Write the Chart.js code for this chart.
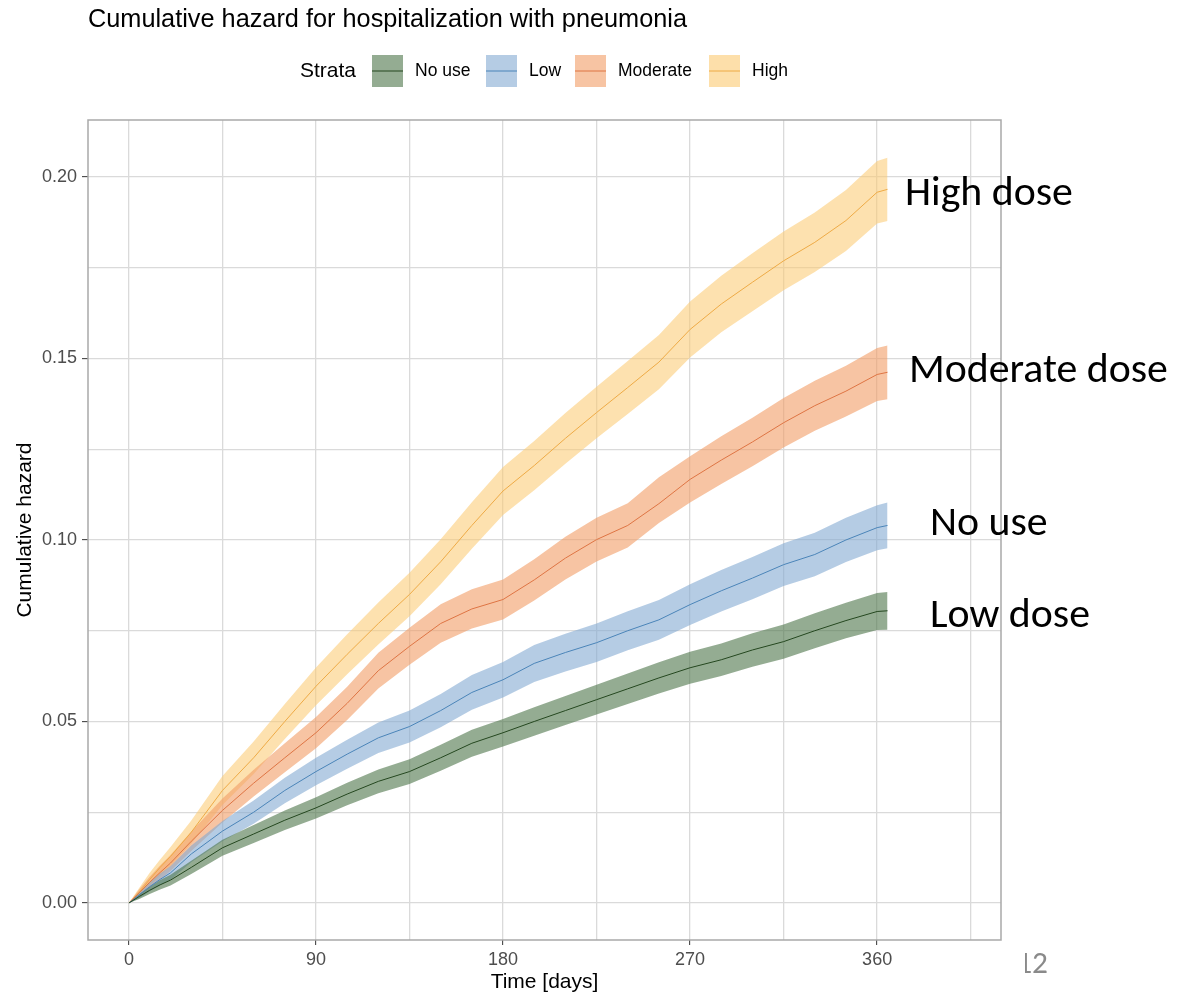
<!DOCTYPE html>
<html><head><meta charset="utf-8">
<script src="https://cdn.jsdelivr.net/npm/chart.js@4/dist/chart.umd.min.js"></script>
<style>html,body{margin:0;padding:0;background:#fff;}#wrap{position:relative;width:1183px;height:995px;}</style>
</head><body><div id="wrap"><canvas id="c" width="1183" height="995" style="width:1183px;height:995px"></canvas></div>
<script>
// ---- data ----
const days = [0,5,10,15,20,30,45,60,75,90,105,120,135,150,165,180,195,210,225,240,255,270,285,300,315,330,345,360,365];

const noUse   = [0,.0018,.0035,.005,.0063,.0098,.0152,.019,.0228,.0262,.030,.0335,.0362,.040,.044,.0469,.050,.053,.056,.059,.062,.0648,.067,.0697,.072,.075,.0778,.0803,.0805];
const noUseLo = [0,.0011,.0025,.0037,.0048,.008,.013,.0165,.0201,.0233,.0269,.0302,.0328,.0364,.0403,.0431,.0461,.049,.0519,.0548,.0577,.0604,.0625,.0651,.0673,.0702,.0729,.0752,.0753];
const noUseHi = [0,.0025,.0045,.0063,.0078,.0116,.0174,.0215,.0255,.0291,.0331,.0368,.0396,.0436,.0477,.0507,.0539,.057,.0601,.0632,.0663,.0692,.0715,.0743,.0767,.0798,.0827,.0854,.0857];

const low   = [0,.0022,.0045,.0065,.0083,.0135,.0198,.025,.031,.0362,.041,.0455,.0486,.053,.058,.0615,.066,.069,.0717,.075,.078,.0822,.086,.0895,.0932,.096,.100,.1034,.104];
const lowLo = [0,.0013,.0032,.0049,.0064,.0112,.017,.0218,.0275,.0324,.037,.0413,.0442,.0484,.0532,.0566,.0609,.0638,.0664,.0696,.0725,.0766,.0803,.0837,.0873,.09,.0939,.0972,.0977];
const lowHi = [0,.0031,.0058,.0081,.0102,.0158,.0226,.0282,.0345,.04,.045,.0497,.053,.0576,.0628,.0664,.0711,.0742,.077,.0804,.0835,.0878,.0917,.0953,.0991,.102,.1061,.1096,.1103];

const moderate   = [0,.0028,.0057,.0084,.011,.017,.0255,.033,.040,.0469,.055,.064,.0707,.077,.081,.0836,.089,.095,.1001,.104,.110,.1167,.122,.127,.1323,.137,.141,.1456,.1462];
const moderateLo = [0,.0018,.0042,.0065,.0088,.0143,.0222,.0293,.036,.0426,.0504,.0591,.0656,.0717,.0756,.0781,.0833,.0891,.0941,.0979,.1047,.1103,.1154,.1203,.1255,.1301,.134,.1383,.1388];
const moderateHi = [0,.0038,.0072,.0103,.0132,.0197,.0288,.0367,.044,.0512,.0596,.0689,.0758,.0823,.0864,.0891,.0947,.1009,.1061,.1101,.1173,.1231,.1286,.1337,.1391,.1439,.148,.1529,.1536];

const high   = [0,.003,.0065,.0098,.0128,.0195,.031,.040,.050,.0597,.0685,.077,.085,.094,.104,.1135,.1205,.128,.1351,.142,.149,.158,.165,.171,.1769,.182,.188,.1958,.1966];
const highLo = [0,.0018,.0047,.0076,.0102,.0163,.027,.0355,.0452,.0545,.063,.0712,.079,.0878,.0976,.1069,.1137,.121,.128,.1347,.1415,.1503,.1572,.163,.1688,.1738,.1796,.1872,.1879];
const highHi = [0,.0042,.0083,.012,.0154,.0227,.035,.0445,.0548,.0649,.074,.0828,.091,.1002,.1104,.1201,.1273,.135,.1422,.1493,.1565,.1657,.1728,.179,.185,.1902,.1964,.2044,.2053];

const strataNames = ["No use","Low","Moderate","High"];
const xTicks = [0,45,90,135,180,225,270,315,360,405];
const yTicks = [0,0.025,0.05,0.075,0.10,0.125,0.15,0.175,0.20];
const annotations = ["High dose","Moderate dose","No use","Low dose"];

// ---- styles ----
const fills = ['rgba(77,117,73,0.6)','rgba(132,170,210,0.6)','rgba(242,157,102,0.6)','rgba(252,204,118,0.58)'];
const swatch = ['rgb(148,172,146)','rgb(181,204,228)','rgb(247,196,163)','rgb(253,223,170)'];
const lineCol = ['#24461f','#4a84b8','#de7443','#eeaa45'];

const series = [[noUse,noUseLo,noUseHi],[low,lowLo,lowHi],[moderate,moderateLo,moderateHi],[high,highLo,highHi]];
const pts = arr => days.map((d,i)=>({x:d,y:arr[i]}));
const datasets = [];
series.forEach((s,k)=>{
  datasets.push({data:pts(s[1]),borderWidth:0,pointRadius:0,fill:false,order:2,backgroundColor:'transparent'});
  datasets.push({data:pts(s[2]),borderWidth:0,pointRadius:0,fill:'-1',order:2,backgroundColor:fills[k]});
});
series.forEach((s,k)=>{
  datasets.push({data:pts(s[0]),borderWidth:1,borderColor:lineCol[k],pointRadius:0,fill:false,order:1,tension:0});
});

const SANS = '"Liberation Sans", Arial, sans-serif';
const ANN = 'Carlito, Calibri, Lato, sans-serif';

const decor = {
  id:'decor',
  afterDraw(chart){
    const ctx = chart.ctx, a = chart.chartArea;
    ctx.save();
    // panel border
    ctx.strokeStyle = '#a9a9a9'; ctx.lineWidth = 1.5;
    ctx.strokeRect(a.left, a.top, a.right-a.left, a.bottom-a.top);
    // title
    ctx.fillStyle = '#000'; ctx.textBaseline = 'alphabetic'; ctx.textAlign = 'left';
    ctx.font = `25.3px ${SANS}`;
    ctx.fillText('Cumulative hazard for hospitalization with pneumonia', 88, 27);
    // legend
    ctx.font = `21px ${SANS}`; ctx.textBaseline = 'middle';
    ctx.fillText('Strata', 300, 71);
    const sx = [372,486,575,709], lx = [415,529,618,752];
    ctx.font = `17.5px ${SANS}`;
    strataNames.forEach((n,k)=>{
      ctx.fillStyle = swatch[k]; ctx.fillRect(sx[k],55,31,32);
      ctx.strokeStyle = lineCol[k]; ctx.lineWidth = 1;
      ctx.beginPath(); ctx.moveTo(sx[k],71); ctx.lineTo(sx[k]+31,71); ctx.stroke();
      ctx.fillStyle = '#000'; ctx.fillText(n, lx[k], 71);
    });
    // axis titles
    ctx.font = `21px ${SANS}`; ctx.textAlign = 'center';
    ctx.fillText('Time [days]', (a.left+a.right)/2, 982);
    ctx.save(); ctx.translate(25,(a.top+a.bottom)/2); ctx.rotate(-Math.PI/2);
    ctx.fillText('Cumulative hazard', 0, 0); ctx.restore();
    // annotations
    ctx.font = `100px ${ANN}`;
    const size = 100*259/ctx.measureText('Moderate dose').width;
    ctx.font = `${size}px ${ANN}`; ctx.textAlign = 'left'; ctx.textBaseline = 'alphabetic';
    ctx.fillStyle = '#000';
    const ax = [905,909,930,930], ay = [205,382,535,627];
    annotations.forEach((t,k)=>ctx.fillText(t, ax[k], ay[k]));
    // slide number (partly cut in reference)
    ctx.save(); ctx.beginPath(); ctx.rect(1025,940,100,55); ctx.clip();
    ctx.fillStyle = '#8a8a8a'; ctx.font = `${size*0.75}px ${ANN}`; ctx.textAlign = 'right';
    ctx.fillText('12', 1048, 973); ctx.restore();
    ctx.restore();
  }
};

const isMajorX = v => Math.abs(v % 90) < 1e-9;
const isMajorY = v => Math.abs(v/0.05 - Math.round(v/0.05)) < 1e-6;

new Chart(document.getElementById('c'), {
  type:'line',
  data:{datasets},
  options:{
    responsive:false, animation:false, devicePixelRatio:1,
    layout:{padding:{left:0,top:120,right:182,bottom:0}},
    plugins:{legend:{display:false},tooltip:{enabled:false},title:{display:false}},
    scales:{
      x:{type:'linear',min:-19.7,max:419.6,
        afterBuildTicks:s=>{s.ticks = xTicks.map(v=>({value:v}));},
        afterFit:s=>{s.height = 55;},
        border:{display:false},
        grid:{color:'#dadada',lineWidth:1.3,tickLength:5,tickWidth:1,
          tickColor:c=>isMajorX(c.tick.value)?'#333':'rgba(0,0,0,0)'},
        ticks:{autoSkip:false,maxRotation:0,padding:4,color:'#4d4d4d',font:{family:SANS,size:18},
          callback:v=>isMajorX(v)?String(v):''}
      },
      y:{type:'linear',min:-0.0102,max:0.2157,
        afterBuildTicks:s=>{s.ticks = yTicks.map(v=>({value:v}));},
        afterFit:s=>{s.width = 88;},
        border:{display:false},
        grid:{color:'#dadada',lineWidth:1.3,tickLength:6,tickWidth:1,
          tickColor:c=>isMajorY(c.tick.value)?'#333':'rgba(0,0,0,0)'},
        ticks:{autoSkip:false,padding:5,color:'#4d4d4d',font:{family:SANS,size:18},
          callback:v=>isMajorY(v)?v.toFixed(2):''}
      }
    }
  },
  plugins:[decor]
});
</script></body></html>
